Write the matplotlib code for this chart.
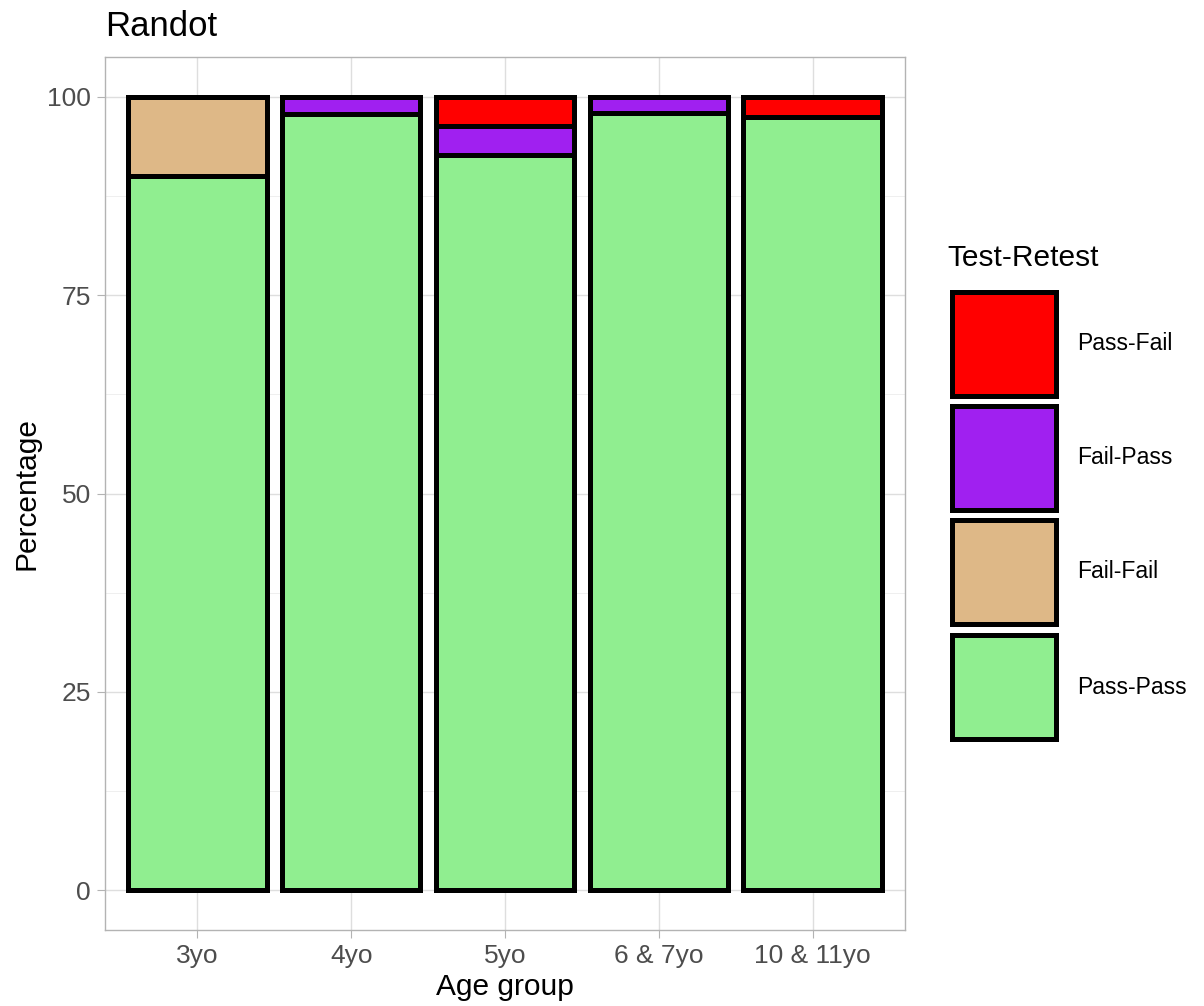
import matplotlib.pyplot as plt
import numpy as np
from matplotlib.patches import Rectangle

plt.rcParams["font.family"] = ["Liberation Sans", "DejaVu Sans"]

age_groups = ["3yo", "4yo", "5yo", "6 & 7yo", "10 & 11yo"]
categories = ["Pass-Pass", "Fail-Fail", "Fail-Pass", "Pass-Fail"]
pass_pass = [90.0, 97.8, 92.6, 97.9, 97.5]
fail_fail = [10.0, 0.0, 0.0, 0.0, 0.0]
fail_pass = [0.0, 2.2, 3.7, 2.1, 0.0]
pass_fail = [0.0, 0.0, 3.7, 0.0, 2.5]
colors = {"Pass-Pass": "#90EE90", "Fail-Fail": "#DEB887",
          "Fail-Pass": "#A020F0", "Pass-Fail": "#FF0000"}

W, H = 1204, 1006
fig = plt.figure(figsize=(W / 100, H / 100), dpi=100)
ax = fig.add_axes([105 / W, 1 - 930 / H, 800 / W, 873 / H])

x = np.arange(1, len(age_groups) + 1)
bottom = np.zeros(len(age_groups))
for name, vals in zip(categories, [pass_pass, fail_fail, fail_pass, pass_fail]):
    vals = np.array(vals)
    mask = vals > 0
    ax.bar(x[mask], vals[mask], bottom=bottom[mask], width=0.9,
           color=colors[name], edgecolor="black", linewidth=3.6, zorder=3)
    bottom += vals

ax.set_xlim(0.4, 5.6)
ax.set_ylim(-5, 105)
ax.set_xticks(x)
ax.set_xticklabels(age_groups)
ax.set_yticks([0, 25, 50, 75, 100])
ax.set_yticks([12.5, 37.5, 62.5, 87.5], minor=True)
ax.grid(True, which="major", color="#DEDEDE", linewidth=1.0, zorder=0)
ax.grid(True, which="minor", axis="y", color="#EFEFEF", linewidth=0.7, zorder=0)
ax.set_axisbelow(True)
for s in ax.spines.values():
    s.set_color("#B3B3B3")
    s.set_linewidth(1.0)
ax.tick_params(axis="both", which="major", colors="#B3B3B3", length=6,
               labelcolor="#4D4D4D", labelsize=19, pad=4)
ax.tick_params(axis="both", which="minor", length=0)
ax.set_xlabel("Age group", fontsize=21.5, labelpad=4)
ax.set_ylabel("Percentage", fontsize=21.5, labelpad=5)
ax.set_title("Randot", fontsize=25, loc="left", pad=15)

# legend
fig.text(947 / W, 1 - 258 / H, "Test-Retest", fontsize=21.5, va="center", ha="left")
key_tops = [290, 404, 518, 633]
for top, name in zip(key_tops, ["Pass-Fail", "Fail-Pass", "Fail-Fail", "Pass-Pass"]):
    fig.add_artist(Rectangle((952 / W, 1 - (top + 106) / H), 104 / W, 104 / H,
                             transform=fig.transFigure, facecolor=colors[name],
                             edgecolor="black", linewidth=3.6))
    fig.text(1077 / W, 1 - (top + 54) / H, name, fontsize=16.5, va="center", ha="left")

fig.savefig("out.png", dpi=100)
